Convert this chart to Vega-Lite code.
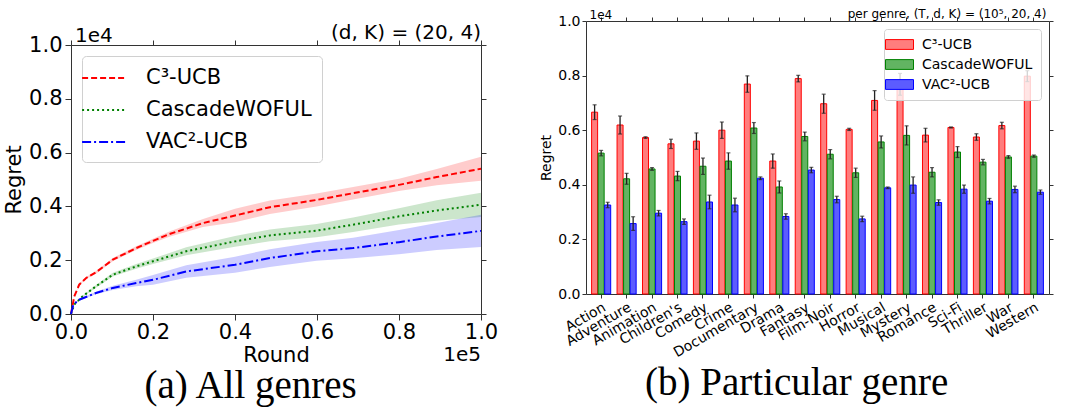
{
  "$schema": "https://vega.github.io/schema/vega-lite/v6.json",
  "background": "white",
  "padding": {"left": 3, "top": 7, "right": 5, "bottom": 0},
  "config": {
    "font": "DejaVu Sans",
    "view": {"stroke": "#333333", "strokeWidth": 1},
    "axis": {"grid": false, "domain": false, "tickColor": "#333333", "labelColor": "black", "titleColor": "black", "titleFontWeight": "normal"}
  },
  "datasets": {
    "curves": [
      {"round": 0, "mean": 0, "lo": 0, "hi": 0, "alg": "C³-UCB"},
      {"round": 800, "mean": 656, "lo": 646, "hi": 666, "alg": "C³-UCB"},
      {"round": 2000, "mean": 1090, "lo": 1060, "hi": 1120, "alg": "C³-UCB"},
      {"round": 3700, "mean": 1340, "lo": 1300, "hi": 1380, "alg": "C³-UCB"},
      {"round": 6100, "mean": 1550, "lo": 1500, "hi": 1600, "alg": "C³-UCB"},
      {"round": 10200, "mean": 2020, "lo": 1960, "hi": 2080, "alg": "C³-UCB"},
      {"round": 15900, "mean": 2450, "lo": 2380, "hi": 2520, "alg": "C³-UCB"},
      {"round": 20000, "mean": 2720, "lo": 2640, "hi": 2800, "alg": "C³-UCB"},
      {"round": 24000, "mean": 2970, "lo": 2870, "hi": 3070, "alg": "C³-UCB"},
      {"round": 32200, "mean": 3380, "lo": 3230, "hi": 3530, "alg": "C³-UCB"},
      {"round": 40000, "mean": 3660, "lo": 3410, "hi": 3910, "alg": "C³-UCB"},
      {"round": 48500, "mean": 3970, "lo": 3720, "hi": 4220, "alg": "C³-UCB"},
      {"round": 59900, "mean": 4240, "lo": 4000, "hi": 4480, "alg": "C³-UCB"},
      {"round": 68800, "mean": 4490, "lo": 4260, "hi": 4720, "alg": "C³-UCB"},
      {"round": 80000, "mean": 4800, "lo": 4570, "hi": 5030, "alg": "C³-UCB"},
      {"round": 89200, "mean": 5090, "lo": 4790, "hi": 5390, "alg": "C³-UCB"},
      {"round": 100000, "mean": 5400, "lo": 4950, "hi": 5850, "alg": "C³-UCB"},
      {"round": 0, "mean": 0, "lo": 0, "hi": 0, "alg": "CascadeWOFUL"},
      {"round": 800, "mean": 350, "lo": 340, "hi": 360, "alg": "CascadeWOFUL"},
      {"round": 2850, "mean": 660, "lo": 630, "hi": 690, "alg": "CascadeWOFUL"},
      {"round": 6100, "mean": 1030, "lo": 980, "hi": 1080, "alg": "CascadeWOFUL"},
      {"round": 10200, "mean": 1460, "lo": 1390, "hi": 1530, "alg": "CascadeWOFUL"},
      {"round": 15900, "mean": 1770, "lo": 1680, "hi": 1860, "alg": "CascadeWOFUL"},
      {"round": 20000, "mean": 1960, "lo": 1860, "hi": 2060, "alg": "CascadeWOFUL"},
      {"round": 28100, "mean": 2330, "lo": 2180, "hi": 2480, "alg": "CascadeWOFUL"},
      {"round": 40000, "mean": 2700, "lo": 2500, "hi": 2900, "alg": "CascadeWOFUL"},
      {"round": 48500, "mean": 2920, "lo": 2700, "hi": 3140, "alg": "CascadeWOFUL"},
      {"round": 59900, "mean": 3100, "lo": 2850, "hi": 3350, "alg": "CascadeWOFUL"},
      {"round": 68800, "mean": 3320, "lo": 3050, "hi": 3590, "alg": "CascadeWOFUL"},
      {"round": 80000, "mean": 3630, "lo": 3330, "hi": 3930, "alg": "CascadeWOFUL"},
      {"round": 89200, "mean": 3850, "lo": 3470, "hi": 4230, "alg": "CascadeWOFUL"},
      {"round": 100000, "mean": 4060, "lo": 3610, "hi": 4510, "alg": "CascadeWOFUL"},
      {"round": 0, "mean": 0, "lo": 0, "hi": 0, "alg": "VAC²-UCB"},
      {"round": 570, "mean": 350, "lo": 330, "hi": 370, "alg": "VAC²-UCB"},
      {"round": 2000, "mean": 530, "lo": 500, "hi": 560, "alg": "VAC²-UCB"},
      {"round": 6100, "mean": 780, "lo": 730, "hi": 830, "alg": "VAC²-UCB"},
      {"round": 10200, "mean": 970, "lo": 890, "hi": 1050, "alg": "VAC²-UCB"},
      {"round": 15900, "mean": 1150, "lo": 1030, "hi": 1270, "alg": "VAC²-UCB"},
      {"round": 20000, "mean": 1270, "lo": 1090, "hi": 1450, "alg": "VAC²-UCB"},
      {"round": 28100, "mean": 1580, "lo": 1350, "hi": 1810, "alg": "VAC²-UCB"},
      {"round": 40000, "mean": 1830, "lo": 1530, "hi": 2130, "alg": "VAC²-UCB"},
      {"round": 48500, "mean": 2080, "lo": 1750, "hi": 2410, "alg": "VAC²-UCB"},
      {"round": 59900, "mean": 2330, "lo": 1980, "hi": 2680, "alg": "VAC²-UCB"},
      {"round": 68800, "mean": 2450, "lo": 2070, "hi": 2830, "alg": "VAC²-UCB"},
      {"round": 80000, "mean": 2670, "lo": 2220, "hi": 3120, "alg": "VAC²-UCB"},
      {"round": 89200, "mean": 2880, "lo": 2380, "hi": 3380, "alg": "VAC²-UCB"},
      {"round": 100000, "mean": 3090, "lo": 2490, "hi": 3690, "alg": "VAC²-UCB"}
    ],
    "bars": [
      {"genre": "Action", "method": "C³-UCB", "value": 6660, "lo": 6390, "hi": 6930},
      {"genre": "Action", "method": "CascadeWOFUL", "value": 5160, "lo": 5060, "hi": 5260},
      {"genre": "Action", "method": "VAC²-UCB", "value": 3260, "lo": 3160, "hi": 3360},
      {"genre": "Adventure", "method": "C³-UCB", "value": 6190, "lo": 5860, "hi": 6520},
      {"genre": "Adventure", "method": "CascadeWOFUL", "value": 4220, "lo": 4020, "hi": 4420},
      {"genre": "Adventure", "method": "VAC²-UCB", "value": 2580, "lo": 2330, "hi": 2830},
      {"genre": "Animation", "method": "C³-UCB", "value": 5730, "lo": 5700, "hi": 5760},
      {"genre": "Animation", "method": "CascadeWOFUL", "value": 4580, "lo": 4530, "hi": 4630},
      {"genre": "Animation", "method": "VAC²-UCB", "value": 2960, "lo": 2860, "hi": 3060},
      {"genre": "Children's", "method": "C³-UCB", "value": 5500, "lo": 5330, "hi": 5670},
      {"genre": "Children's", "method": "CascadeWOFUL", "value": 4320, "lo": 4150, "hi": 4490},
      {"genre": "Children's", "method": "VAC²-UCB", "value": 2650, "lo": 2550, "hi": 2750},
      {"genre": "Comedy", "method": "C³-UCB", "value": 5600, "lo": 5300, "hi": 5900},
      {"genre": "Comedy", "method": "CascadeWOFUL", "value": 4680, "lo": 4380, "hi": 4980},
      {"genre": "Comedy", "method": "VAC²-UCB", "value": 3370, "lo": 3120, "hi": 3620},
      {"genre": "Crime", "method": "C³-UCB", "value": 6000, "lo": 5700, "hi": 6300},
      {"genre": "Crime", "method": "CascadeWOFUL", "value": 4870, "lo": 4570, "hi": 5170},
      {"genre": "Crime", "method": "VAC²-UCB", "value": 3260, "lo": 3010, "hi": 3510},
      {"genre": "Documentary", "method": "C³-UCB", "value": 7690, "lo": 7390, "hi": 7990},
      {"genre": "Documentary", "method": "CascadeWOFUL", "value": 6080, "lo": 5880, "hi": 6280},
      {"genre": "Documentary", "method": "VAC²-UCB", "value": 4240, "lo": 4190, "hi": 4290},
      {"genre": "Drama", "method": "C³-UCB", "value": 4870, "lo": 4610, "hi": 5130},
      {"genre": "Drama", "method": "CascadeWOFUL", "value": 3920, "lo": 3700, "hi": 4140},
      {"genre": "Drama", "method": "VAC²-UCB", "value": 2840, "lo": 2740, "hi": 2940},
      {"genre": "Fantasy", "method": "C³-UCB", "value": 7890, "lo": 7770, "hi": 8010},
      {"genre": "Fantasy", "method": "CascadeWOFUL", "value": 5770, "lo": 5610, "hi": 5930},
      {"genre": "Fantasy", "method": "VAC²-UCB", "value": 4540, "lo": 4440, "hi": 4640},
      {"genre": "Film-Noir", "method": "C³-UCB", "value": 6970, "lo": 6620, "hi": 7320},
      {"genre": "Film-Noir", "method": "CascadeWOFUL", "value": 5120, "lo": 4950, "hi": 5290},
      {"genre": "Film-Noir", "method": "VAC²-UCB", "value": 3460, "lo": 3340, "hi": 3580},
      {"genre": "Horror", "method": "C³-UCB", "value": 6030, "lo": 5990, "hi": 6070},
      {"genre": "Horror", "method": "CascadeWOFUL", "value": 4440, "lo": 4270, "hi": 4610},
      {"genre": "Horror", "method": "VAC²-UCB", "value": 2750, "lo": 2650, "hi": 2850},
      {"genre": "Musical", "method": "C³-UCB", "value": 7090, "lo": 6730, "hi": 7450},
      {"genre": "Musical", "method": "CascadeWOFUL", "value": 5570, "lo": 5350, "hi": 5790},
      {"genre": "Musical", "method": "VAC²-UCB", "value": 3890, "lo": 3860, "hi": 3920},
      {"genre": "Mystery", "method": "C³-UCB", "value": 7680, "lo": 7280, "hi": 8080},
      {"genre": "Mystery", "method": "CascadeWOFUL", "value": 5810, "lo": 5460, "hi": 6160},
      {"genre": "Mystery", "method": "VAC²-UCB", "value": 3990, "lo": 3690, "hi": 4290},
      {"genre": "Romance", "method": "C³-UCB", "value": 5820, "lo": 5570, "hi": 6070},
      {"genre": "Romance", "method": "CascadeWOFUL", "value": 4460, "lo": 4290, "hi": 4630},
      {"genre": "Romance", "method": "VAC²-UCB", "value": 3350, "lo": 3250, "hi": 3450},
      {"genre": "Sci-Fi", "method": "C³-UCB", "value": 6100, "lo": 6080, "hi": 6120},
      {"genre": "Sci-Fi", "method": "CascadeWOFUL", "value": 5200, "lo": 5000, "hi": 5400},
      {"genre": "Sci-Fi", "method": "VAC²-UCB", "value": 3840, "lo": 3690, "hi": 3990},
      {"genre": "Thriller", "method": "C³-UCB", "value": 5750, "lo": 5630, "hi": 5870},
      {"genre": "Thriller", "method": "CascadeWOFUL", "value": 4830, "lo": 4730, "hi": 4930},
      {"genre": "Thriller", "method": "VAC²-UCB", "value": 3400, "lo": 3300, "hi": 3500},
      {"genre": "War", "method": "C³-UCB", "value": 6170, "lo": 6050, "hi": 6290},
      {"genre": "War", "method": "CascadeWOFUL", "value": 5020, "lo": 4970, "hi": 5070},
      {"genre": "War", "method": "VAC²-UCB", "value": 3830, "lo": 3710, "hi": 3950},
      {"genre": "Western", "method": "C³-UCB", "value": 7980, "lo": 7780, "hi": 8180},
      {"genre": "Western", "method": "CascadeWOFUL", "value": 5050, "lo": 5010, "hi": 5090},
      {"genre": "Western", "method": "VAC²-UCB", "value": 3730, "lo": 3650, "hi": 3810}
    ],
    "empty": [],
    "one": [{}]
  },
  "resolve": {
    "scale": {"color": "independent", "stroke": "independent", "strokeDash": "independent"},
    "legend": {"color": "independent", "stroke": "independent", "strokeDash": "independent"}
  },
  "spacing": 40,
  "hconcat": [
    {
      "spacing": 0,
      "resolve": {
        "scale": {"color": "independent", "strokeDash": "independent"},
        "legend": {"color": "independent", "strokeDash": "independent"}
      },
      "vconcat": [
        {"width": 1, "height": 1, "data": {"name": "empty"}, "mark": "point", "view": {"stroke": null}},
        {
          "width": 410,
          "height": 269,
          "data": {"name": "curves"},
          "title": {"text": "(a) All genres", "orient": "bottom", "anchor": "middle", "frame": "bounds", "font": "Liberation Serif", "fontSize": 39, "fontWeight": "normal", "color": "black", "offset": 2},
          "resolve": {"axis": {"x": "independent", "y": "independent"}},
          "layer": [
            {
              "mark": {"type": "area", "opacity": 0.2},
              "encoding": {
                "x": {"field": "round", "type": "quantitative", "scale": {"domain": [0, 100000], "nice": false, "zero": false},
                  "axis": {"orient": "bottom", "values": [0, 20000, 40000, 60000, 80000, 100000], "labelExpr": "format(datum.value/100000, '.1f')", "labelFontSize": 21, "labelPadding": 1, "tickSize": 6, "title": "Round", "titleFontSize": 21, "titlePadding": 2, "labelFlush": false}},
                "y": {"field": "lo", "type": "quantitative", "scale": {"domain": [0, 10000], "nice": false},
                  "axis": {"orient": "left", "values": [0, 2000, 4000, 6000, 8000, 10000], "labelExpr": "format(datum.value/10000, '.1f')", "labelFontSize": 21, "labelPadding": 3, "tickSize": 6, "title": "Regret", "titleFontSize": 21, "titlePadding": 4}},
                "y2": {"field": "hi"},
                "color": {"field": "alg", "type": "nominal", "scale": {"domain": ["C³-UCB", "CascadeWOFUL", "VAC²-UCB"], "range": ["#ff0000", "#008000", "#0000ff"]},
                  "legend": {"title": null, "orient": "top-left", "offset": 11, "symbolType": "M-2,0H2", "symbolSize": 480, "symbolStrokeWidth": 2, "symbolOpacity": 1, "symbolFillColor": "transparent", "labelFontSize": 21, "labelOffset": 30, "rowPadding": 10, "padding": 10, "strokeColor": "#d0d0d0", "fillColor": "white", "cornerRadius": 4, "labelColor": "black", "labelLimit": 300}}
              }
            },
            {
              "mark": {"type": "line", "strokeWidth": 2},
              "encoding": {
                "x": {"field": "round", "type": "quantitative", "axis": {"orient": "top", "values": [0, 20000, 40000, 60000, 80000, 100000], "labels": false, "tickSize": 5, "title": null, "minExtent": 0, "maxExtent": 5}},
                "y": {"field": "mean", "type": "quantitative", "axis": {"orient": "right", "values": [0, 2000, 4000, 6000, 8000, 10000], "labels": false, "tickSize": 5, "title": null, "minExtent": 0, "maxExtent": 5}},
                "color": {"field": "alg", "type": "nominal"},
                "strokeDash": {"field": "alg", "type": "nominal", "scale": {"domain": ["C³-UCB", "CascadeWOFUL", "VAC²-UCB"], "range": [[6, 3], [2, 3], [9, 3, 2, 3]]}, "legend": {"title": null}}
              }
            },
            {
              "data": {"name": "one"},
              "mark": {"type": "text", "text": "1e4", "align": "left", "baseline": "alphabetic", "fontSize": 20, "dx": 4, "dy": -3, "color": "black"},
              "encoding": {"x": {"datum": 0, "type": "quantitative", "axis": null}, "y": {"datum": 10000, "type": "quantitative", "axis": null}}
            },
            {
              "data": {"name": "one"},
              "mark": {"type": "text", "text": "(d, K) = (20, 4)", "align": "right", "baseline": "alphabetic", "fontSize": 20, "dy": -6, "color": "black"},
              "encoding": {"x": {"datum": 100000, "type": "quantitative", "axis": null}, "y": {"datum": 10000, "type": "quantitative", "axis": null}}
            },
            {
              "data": {"name": "one"},
              "mark": {"type": "text", "text": "1e5", "align": "right", "baseline": "alphabetic", "fontSize": 20, "dy": 47, "color": "black"},
              "encoding": {"x": {"datum": 100000, "type": "quantitative", "axis": null}, "y": {"datum": 0, "type": "quantitative", "axis": null}}
            }
          ]
        }
      ]
    },
    {
      "resolve": {
        "scale": {"color": "independent", "stroke": "independent"},
        "legend": {"color": "independent", "stroke": "independent"}
      },
      "vconcat": [
        {
          "width": 463,
          "height": 273,
          "data": {"name": "bars"},
          "title": {"text": "(b) Particular genre", "orient": "bottom", "anchor": "middle", "frame": "bounds", "font": "Liberation Serif", "fontSize": 39, "fontWeight": "normal", "color": "black", "offset": 4},
          "resolve": {"axis": {"x": "independent", "y": "independent"}},
          "layer": [
            {
              "mark": {"type": "bar", "strokeWidth": 1},
              "encoding": {
                "x": {"field": "genre", "type": "nominal", "sort": null, "scale": {"paddingInner": 0.25, "paddingOuter": 0.22},
                  "axis": {"orient": "bottom", "title": null, "labelAngle": -30, "labelAlign": "right", "labelBaseline": "top", "labelFontSize": 14, "tickSize": 4, "labelPadding": 2}},
                "xOffset": {"field": "method", "type": "nominal", "sort": ["C³-UCB", "CascadeWOFUL", "VAC²-UCB"], "scale": {"paddingInner": 0.08}},
                "y": {"field": "value", "type": "quantitative", "scale": {"domain": [0, 10000], "nice": false},
                  "axis": {"orient": "left", "values": [0, 2000, 4000, 6000, 8000, 10000], "labelExpr": "format(datum.value/10000, '.1f')", "labelFontSize": 14, "tickSize": 4, "labelPadding": 2, "title": "Regret", "titleFontSize": 14, "titlePadding": 4}},
                "color": {"field": "method", "type": "nominal", "scale": {"domain": ["C³-UCB", "CascadeWOFUL", "VAC²-UCB"], "range": ["#ff7d7d", "#62b462", "#5c5cff"]},
                  "legend": {"title": null, "orient": "top-right", "offset": 8, "symbolType": "M-2,-0.7H2V0.7H-2Z", "symbolSize": 196, "symbolStrokeWidth": 1, "labelFontSize": 14, "labelOffset": 15, "rowPadding": 5, "padding": 8, "strokeColor": "#d0d0d0", "fillColor": "rgba(255,255,255,0.8)", "cornerRadius": 3, "labelColor": "black"}},
                "stroke": {"field": "method", "type": "nominal", "scale": {"domain": ["C³-UCB", "CascadeWOFUL", "VAC²-UCB"], "range": ["#ff0000", "#008000", "#0000ff"]}, "legend": {"title": null}}
              }
            },
            {
              "mark": {"type": "rule", "color": "#222222", "strokeWidth": 1.3},
              "encoding": {
                "x": {"field": "genre", "type": "nominal", "sort": null, "axis": {"orient": "top", "labels": false, "title": null, "tickSize": 4, "minExtent": 0, "maxExtent": 4}},
                "xOffset": {"field": "method", "type": "nominal", "sort": ["C³-UCB", "CascadeWOFUL", "VAC²-UCB"]},
                "y": {"field": "lo", "type": "quantitative", "axis": {"orient": "right", "values": [0, 2000, 4000, 6000, 8000, 10000], "labels": false, "title": null, "tickSize": 4, "minExtent": 0, "maxExtent": 4}},
                "y2": {"field": "hi"}
              }
            },
            {
              "mark": {"type": "tick", "color": "#222222", "thickness": 1.2, "size": 4, "orient": "horizontal"},
              "encoding": {
                "x": {"field": "genre", "type": "nominal", "sort": null, "axis": null},
                "xOffset": {"field": "method", "type": "nominal", "sort": ["C³-UCB", "CascadeWOFUL", "VAC²-UCB"]},
                "y": {"field": "hi", "type": "quantitative", "axis": null}
              }
            },
            {
              "mark": {"type": "tick", "color": "#222222", "thickness": 1.2, "size": 4, "orient": "horizontal"},
              "encoding": {
                "x": {"field": "genre", "type": "nominal", "sort": null, "axis": null},
                "xOffset": {"field": "method", "type": "nominal", "sort": ["C³-UCB", "CascadeWOFUL", "VAC²-UCB"]},
                "y": {"field": "lo", "type": "quantitative", "axis": null}
              }
            },
            {
              "data": {"name": "one"},
              "mark": {"type": "text", "text": "1e4", "align": "left", "baseline": "alphabetic", "fontSize": 12, "dx": -2, "dy": -2, "color": "black"},
              "encoding": {"x": {"datum": "Action", "type": "nominal", "bandPosition": 0, "axis": null}, "y": {"datum": 10000, "type": "quantitative", "axis": null}}
            },
            {
              "data": {"name": "one"},
              "mark": {"type": "text", "text": "per genre, (T, d, K) = (10⁵, 20, 4)", "align": "right", "baseline": "alphabetic", "fontSize": 12, "dx": 3, "dy": -3, "color": "black"},
              "encoding": {"x": {"datum": "Western", "type": "nominal", "bandPosition": 1, "axis": null}, "y": {"datum": 10000, "type": "quantitative", "axis": null}}
            }
          ]
        }
      ]
    }
  ]
}
